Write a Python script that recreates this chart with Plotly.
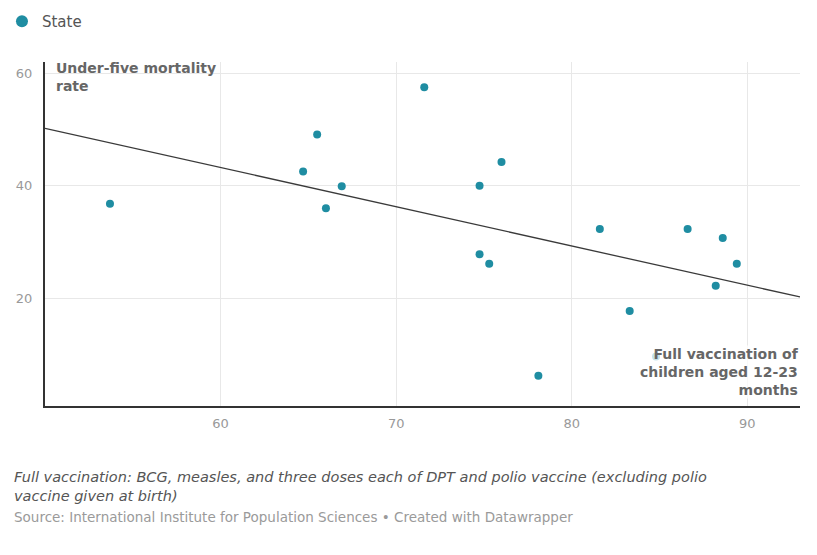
import plotly.graph_objects as go

# Full vaccination (%) of children aged 12-23 months vs under-five mortality rate, by state
vaccination = [53.7, 64.7, 66.9, 66.0, 65.5, 71.6, 76.0, 74.75, 74.75, 75.3,
               78.1, 81.6, 83.3, 86.6, 88.6, 89.4, 88.2, 84.8]
mortality = [36.8, 42.5, 39.9, 36.0, 49.1, 57.5, 44.2, 40.0, 27.8, 26.1,
             6.2, 32.3, 17.7, 32.3, 30.7, 26.1, 22.2, 9.6]

trend_x = [50, 93]
trend_y = [50.2, 20.2]

x_ticks = [60, 70, 80, 90]
y_ticks = [20, 40, 60]

FONT = "DejaVu Sans, Verdana, sans-serif"
TEAL = "#1f8da2"

fig = go.Figure()

fig.add_trace(go.Scatter(
    x=trend_x, y=trend_y, mode="lines",
    line=dict(color="#3a3a3a", width=1.3),
    showlegend=False, hoverinfo="skip",
))

fig.add_trace(go.Scatter(
    x=vaccination, y=mortality, mode="markers", name="State",
    marker=dict(color=TEAL, size=8, line=dict(width=0)),
))

fig.update_layout(
    width=817, height=555,
    margin=dict(l=37, r=25, t=54, b=157, autoexpand=False),
    paper_bgcolor="white", plot_bgcolor="white",
    font=dict(family=FONT, color="#666666", size=12),
    showlegend=True,
    legend=dict(
        x=-0.057, y=1.166, yanchor="top",
        xanchor="left", orientation="h",
        font=dict(size=15, color="#555555", family=FONT),
        itemsizing="constant", bgcolor="rgba(0,0,0,0)",
        itemwidth=30,
    ),
    xaxis=dict(
        range=[50, 93], tickvals=x_ticks, ticktext=[str(v) for v in x_ticks],
        showgrid=True, gridcolor="#e8e8e8", gridwidth=1,
        zeroline=False, showline=True, linecolor="#333333", linewidth=2,
        ticks="", tickfont=dict(size=13, color="#999999"),
        ticklabelstandoff=4,
    ),
    yaxis=dict(
        range=[0.8, 62], tickvals=y_ticks, ticktext=[str(v) for v in y_ticks],
        showgrid=True, gridcolor="#e8e8e8", gridwidth=1,
        zeroline=False, showline=True, linecolor="#333333", linewidth=2,
        ticks="", tickfont=dict(size=13, color="#999999"),
        ticklabelstandoff=8,
    ),
)

fig.add_annotation(
    text="<b>Under-five mortality<br>rate</b>",
    xref="paper", yref="paper", x=0.012, y=1.012,
    xanchor="left", yanchor="top", align="left", showarrow=False,
    font=dict(size=14, color="#666666", family=FONT),
)

fig.add_annotation(
    text="<b>Full vaccination of<br>children aged 12-23<br>months</b>",
    xref="paper", yref="paper", x=1.0, y=0.02,
    xanchor="right", yanchor="bottom", align="right", showarrow=False,
    bgcolor="rgba(255,255,255,0.75)", borderpad=0,
    font=dict(size=14, color="#666666", family=FONT),
)

fig.add_annotation(
    text="<i>Full vaccination: BCG, measles, and three doses each of DPT and polio vaccine (excluding polio<br>vaccine given at birth)</i>",
    xref="paper", yref="paper", x=-0.0437, y=-0.178,
    xanchor="left", yanchor="top", align="left", showarrow=False,
    font=dict(size=14.5, color="#555555", family=FONT),
)

fig.add_annotation(
    text="Source: International Institute for Population Sciences • Created with Datawrapper",
    xref="paper", yref="paper", x=-0.0437, y=-0.295,
    xanchor="left", yanchor="top", align="left", showarrow=False,
    font=dict(size=13.5, color="#9a9a9a", family=FONT),
)

fig.write_html("out.html")
